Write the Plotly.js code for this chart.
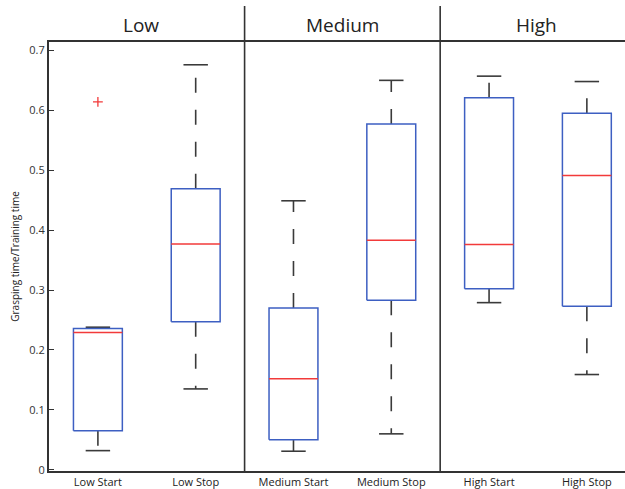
<!DOCTYPE html>
<html>
<head>
<meta charset="utf-8">
<script src="https://cdn.plot.ly/plotly-3.0.1.min.js"></script>
<style>html,body{margin:0;padding:0;background:#fff;}#chart{width:625px;height:489px;}</style>
</head>
<body>
<div id="chart"></div>
<script>
// ---- data ----
var categories = ["Low Start", "Low Stop", "Medium Start", "Medium Stop", "High Start", "High Stop"];
var lowerWhisker = [0.032, 0.135, 0.031, 0.060, 0.279, 0.159];
var q1Values     = [0.065, 0.247, 0.050, 0.283, 0.302, 0.273];
var medians      = [0.229, 0.377, 0.152, 0.383, 0.376, 0.491];
var q3Values     = [0.236, 0.469, 0.270, 0.577, 0.621, 0.595];
var upperWhisker = [0.238, 0.676, 0.449, 0.650, 0.657, 0.648];
var outlierCategory = ["Low Start"];
var outlierValues   = [0.614];
var groupLabels = ["Low", "Medium", "High"];
var yTicks = [0, 0.1, 0.2, 0.3, 0.4, 0.5, 0.6, 0.7];
var yTickText = ["0", "0.1", "0.2", "0.3", "0.4", "0.5", "0.6", "0.7"];

// ---- style ----
var halfBox = 0.25, halfCap = 0.125;
var boxColor = "#3d5fc2", medColor = "#f23a3a", whiskColor = "#3a3a3a";

var pos = categories.map(function(c, i){ return i + 1; });
var bx = [], by = [], mx = [], my = [], wx = [], wy = [], cx = [], cy = [];
pos.forEach(function(p, i){
  bx.push(p-halfBox, p+halfBox, p+halfBox, p-halfBox, p-halfBox, null);
  by.push(q1Values[i], q1Values[i], q3Values[i], q3Values[i], q1Values[i], null);
  mx.push(p-halfBox, p+halfBox, null);
  my.push(medians[i], medians[i], null);
  wx.push(p, p, null, p, p, null);
  wy.push(q3Values[i], upperWhisker[i], null, q1Values[i], lowerWhisker[i], null);
  cx.push(p-halfCap, p+halfCap, null, p-halfCap, p+halfCap, null);
  cy.push(upperWhisker[i], upperWhisker[i], null, lowerWhisker[i], lowerWhisker[i], null);
});
var ox = outlierCategory.map(function(c){ return categories.indexOf(c) + 1; });

var traces = [
  {x: wx, y: wy, mode: "lines", line: {color: whiskColor, width: 1.6, dash: "15px,17px"}, hoverinfo: "skip"},
  {x: cx, y: cy, mode: "lines", line: {color: whiskColor, width: 1.6}, hoverinfo: "skip"},
  {x: bx, y: by, mode: "lines", line: {color: boxColor, width: 1.5}, hoverinfo: "skip"},
  {x: mx, y: my, mode: "lines", line: {color: medColor, width: 1.5}, hoverinfo: "skip"},
  {x: ox, y: outlierValues, mode: "markers", marker: {symbol: "cross-thin", size: 7, line: {color: medColor, width: 1.3}}, hoverinfo: "skip"}
];

var seps = [2.5, 4.5];
var shapes = seps.map(function(s){
  return {type: "line", xref: "x", yref: "paper", x0: s, x1: s, y0: 0, y1: 1.084,
          line: {color: "#333", width: 1.6}};
});
var groupX = [1.44, 3.5, 5.48];
var annotations = groupLabels.map(function(g, i){
  return {text: g, x: groupX[i], xref: "x", y: 1.04, yref: "paper", showarrow: false,
          xanchor: "center", yanchor: "middle",
          font: {family: "Open Sans, Lato, sans-serif", size: 19, color: "#222"}};
});

var layout = {
  width: 625, height: 489,
  margin: {l: 49, r: 0, t: 42, b: 18},
  paper_bgcolor: "#fff", plot_bgcolor: "#fff",
  showlegend: false,
  xaxis: {range: [0.5, 6.39], tickvals: pos, ticktext: categories, ticks: "", showgrid: false,
          zeroline: false, showline: true, mirror: true, linecolor: "#333", linewidth: 2,
          tickfont: {family: "Open Sans, Lato, sans-serif", size: 11, color: "#222"}},
  yaxis: {range: [-0.002, 0.714], tickvals: yTicks, ticktext: yTickText, ticks: "inside", ticklen: 5,
          tickcolor: "#333", showgrid: false, zeroline: false, showline: true, linecolor: "#333", linewidth: 2,
          tickfont: {family: "Open Sans, Lato, sans-serif", size: 11, color: "#333"},
          title: {text: "Grasping time/Training time", standoff: 8,
                  font: {family: "Open Sans, Lato, sans-serif", size: 10, color: "#222"}}},
  shapes: shapes,
  annotations: annotations
};

Plotly.newPlot("chart", traces, layout, {displayModeBar: false, staticPlot: true});
</script>
</body>
</html>
